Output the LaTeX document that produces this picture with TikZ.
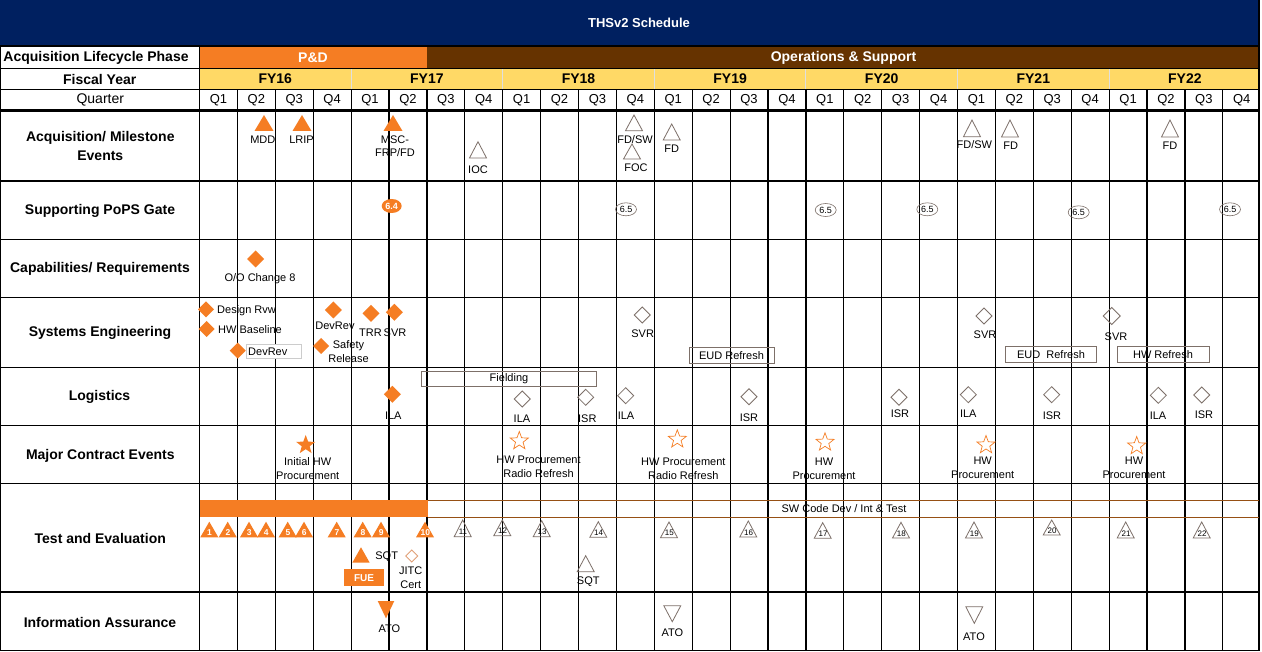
\documentclass[tikz,border=0pt]{standalone}
\usepackage{fontspec}
\setmainfont{Liberation Sans}
\usetikzlibrary{shapes.geometric}
\definecolor{navy}{RGB}{0,32,96}
\definecolor{myor}{RGB}{245,125,35}
\definecolor{mybr}{RGB}{102,51,0}
\definecolor{mygold}{RGB}{255,217,102}
\definecolor{mygr}{RGB}{125,112,105}
\definecolor{mysw}{RGB}{150,80,20}
\definecolor{mylo}{RGB}{225,160,120}
\tikzset{
 hdr/.style={font=\fontsize{14}{19}\selectfont\bfseries, align=center, inner sep=0pt},
 qtr/.style={font=\fontsize{13}{15}\selectfont, inner sep=0pt},
 lab/.style={font=\fontsize{11}{14}\selectfont, align=center, inner sep=0pt},
 gridln/.style={line width=1.2pt, black},
 oline/.style={draw=mygr, line width=0.8pt, fill=none},
 boxl/.style={draw=mygr, line width=0.8pt},
 numw/.style={font=\fontsize{8.5}{9}\selectfont\bfseries, text=white, inner sep=0pt},
 numb/.style={font=\fontsize{8}{9}\selectfont, text=black, inner sep=0pt},
 gate/.style={ellipse, draw=mygr, line width=0.6pt, minimum width=21pt, minimum height=13pt, inner sep=0pt, font=\fontsize{9}{9}\selectfont},
 fstar/.style={star, star points=5, star point ratio=2.4, minimum size=20pt, inner sep=0pt, fill=myor},
 ostar/.style={star, star points=5, star point ratio=2.4, minimum size=19pt, inner sep=0pt, draw=myor, line width=0.7pt},
}
\newcommand{\TriF}[4]{\fill[myor] (#1-#4,#3) -- (#1,#2) -- (#1+#4,#3) -- cycle;}
\newcommand{\TriO}[4]{\draw[oline] (#1-#4,#3) -- (#1,#2) -- (#1+#4,#3) -- cycle;}
\newcommand{\DiaF}[3]{\fill[myor] (#1-#3,#2) -- (#1,#2-#3) -- (#1+#3,#2) -- (#1,#2+#3) -- cycle;}
\newcommand{\DiaO}[3]{\draw[oline] (#1-#3,#2) -- (#1,#2-#3) -- (#1+#3,#2) -- (#1,#2+#3) -- cycle;}
\begin{document}
\begin{tikzpicture}[x=1pt,y=-1pt]
\useasboundingbox (0,0) rectangle (1262,652);
\fill[white] (0,0) rectangle (1262,652);
% header bands
\fill[navy] (0,0) rectangle (1259,46);
\fill[myor] (199.5,46) rectangle (426.7,68.5);
\fill[mybr] (426.7,46) rectangle (1259,68.5);
\fill[mygold] (199.5,68.5) rectangle (1259,89.5);
\foreach \k in {1,...,6} \draw[white!75!gray, line width=1pt] ({199.5+151.6*\k},68.5) -- ({199.5+151.6*\k},89.5);
% grid
\foreach \yy in {46,68.5,89.5,181,239.5,297.5,367.5,425.5,483.5,592,650.2} \draw[gridln] (0,\yy) -- (1259,\yy);
\draw[line width=2.6pt] (0,110.5) -- (1259,110.5);
\foreach \i in {1,...,27} \draw[gridln] ({199.5+37.9*\i},89.5) -- ({199.5+37.9*\i},650.2);
\draw[gridln] (199.5,46) -- (199.5,650.2);
\draw[gridln] (0.6,46) -- (0.6,650.2);
\draw[line width=2.6pt] (1259,0) -- (1259,651);
% title and headers
\node[font=\fontsize{13}{15}\selectfont\bfseries, text=white, inner sep=0pt] (title) at (639,23) {THSv2 Schedule};
\node[hdr] (h0) at (96,57.5) {Acquisition Lifecycle Phase};
\node[hdr] (h1) at (99.7,79) {Fiscal Year};
\node[font=\fontsize{14}{16}\selectfont, inner sep=0pt] (h2) at (100.3,100) {Quarter};
\node[hdr, text=white] (pd) at (313,57.5) {P\&D};
\node[hdr, text=white] (os) at (843.5,57.5) {Operations \& Support};
\foreach \k/\t in {0/FY16,1/FY17,2/FY18,3/FY19,4/FY20,5/FY21,6/FY22}
  \node[hdr] (fy\k) at ({199.5+151.6*\k+75.8},79) {\t};
\foreach \i in {0,...,27} {
  \pgfmathtruncatemacro\q{mod(\i,4)+1}
  \node[qtr] (q\i) at ({199.5+37.9*(\i+0.5)},100) {Q\q};
}
% row labels
\node[hdr] (r1) at (100.3,146) {Acquisition/ Milestone\\Events};
\node[hdr] (r2) at (100,211) {Supporting PoPS Gate};
\node[hdr] (r3) at (100,269) {Capabilities/ Requirements};
\node[hdr] (r4) at (100,333) {Systems Engineering};
\node[hdr] (r5) at (99.5,397) {Logistics};
\node[hdr] (r6) at (100.3,455.5) {Major Contract Events};
\node[hdr] (r7) at (100.3,538) {Test and Evaluation};
\node[hdr] (r8) at (100,622) {Information Assurance};
% ---- Acquisition / milestone
\TriF{264}{115}{131}{9.5}
\TriF{302}{115}{131}{9.5}
\TriF{393}{115}{131}{9.5}
\TriO{478}{141.7}{158}{8.5}
\TriO{634}{115}{130.7}{8.5}
\TriO{632}{144}{159}{8.5}
\TriO{671.7}{124}{140}{8.5}
\TriO{972}{120}{136.7}{8.5}
\TriO{1010}{120}{137}{8.5}
\TriO{1170}{120}{137}{8.5}
\node[lab] (a1) at (262.8,140) {MDD};
\node[lab] (a2) at (301.5,140) {LRIP};
\node[lab, font=\fontsize{11}{13.5}\selectfont] (a3) at (395,146) {MSC-\\FRP/FD};
\node[lab] (a4) at (478,170) {IOC};
\node[lab] (a5) at (635,139.3) {FD/SW};
\node[lab] (a6) at (636,167.7) {FOC};
\node[lab] (a7) at (671.7,149) {FD};
\node[lab] (a8) at (974.3,145) {FD/SW};
\node[lab] (a9) at (1010.7,146) {FD};
\node[lab] (a10) at (1170,146) {FD};
% ---- PoPS gates
\node[ellipse, fill=myor, text=white, minimum width=20pt, minimum height=14pt, inner sep=0pt, font=\fontsize{9}{9}\selectfont\bfseries] (g1) at (391.7,206) {6.4};
\node[gate] (g2) at (626,209.3) {6.5};
\node[gate] (g3) at (825.7,210) {6.5};
\node[gate] (g4) at (927.3,209.3) {6.5};
\node[gate] (g5) at (1078.7,212.3) {6.5};
\node[gate] (g6) at (1230,209.3) {6.5};
% ---- Capabilities
\DiaF{255.7}{259}{8.5}
\node[lab] (c1) at (260,279) {O/O Change 8};
% ---- Systems engineering
\fill[white] (246.7,344) rectangle (301.7,358);
\draw[gray!40, line width=0.6pt] (246.7,344) rectangle (301.7,358);
\DiaF{206}{309.3}{8}
\DiaF{206.7}{329}{8}
\DiaF{237.7}{350.7}{8}
\DiaF{333.3}{310}{8.5}
\DiaF{321}{346}{8}
\DiaF{371}{313.3}{8.5}
\DiaF{394.3}{312.3}{8.5}
\DiaO{642.3}{315}{8}
\DiaO{984}{316}{8}
\DiaO{1111.7}{316}{8.5}
\node[lab, anchor=west] (s1) at (217,311) {Design Rvw};
\node[lab, anchor=west] (s2) at (218,330) {HW Baseline};
\node[lab, anchor=west] (s3) at (248,352) {DevRev};
\node[lab] (s4) at (335,325.5) {DevRev};
\node[lab, font=\fontsize{11}{14}\selectfont] (s5) at (348.5,351.5) {Safety\\Release};
\node[lab] (s6) at (370.5,333) {TRR};
\node[lab] (s7) at (395,333) {SVR};
\node[lab] (s8) at (642.7,334) {SVR};
\node[lab] (s9) at (985,335) {SVR};
\node[lab] (s10) at (1116,337) {SVR};
\draw[boxl] (689,347.7) rectangle (774.3,363.3);
\node[lab] (s11) at (731.5,355.5) {EUD Refresh};
\draw[boxl] (1005.7,346.7) rectangle (1096.7,362.7);
\node[lab] (s12) at (1051,354.7) {EUD\ \ Refresh};
\draw[boxl] (1117.3,346.7) rectangle (1209,362.7);
\node[lab] (s13) at (1163,354.7) {HW Refresh};
% ---- Logistics
\draw[boxl] (421.7,371.7) rectangle (596.7,386.7);
\node[lab] (lf) at (509,379) {Fielding};
\DiaF{392.3}{394.3}{8.5}
\node[lab] (l1) at (393.3,415.7) {ILA};
\foreach \dx/\dy/\tx/\ty/\t [count=\n] in {522.3/399/522/418.7/ILA, 585.7/397.3/587.3/418.7/ISR, 625.7/395.7/626/415.3/ILA, 749/396.7/749/417.3/ISR, 899/397.3/900/413.3/ISR, 968.3/394.7/968.3/413.3/ILA, 1051.7/394.7/1052/415.3/ISR, 1158.3/395.3/1158/415.3/ILA, 1201.7/395/1204/415/ISR} {
  \DiaO{\dx}{\dy}{8}
  \node[lab] (lo\n) at (\tx,\ty) {\t};
}
% ---- Major contract events
\node[fstar] (st1) at (305.7,445) {};
\node[lab] (m1) at (307.7,468.3) {Initial HW\\Procurement};
\node[ostar] (st2) at (519.3,441) {};
\node[lab] (m2) at (538.5,467) {HW Procurement\\Radio Refresh};
\node[ostar] (st3) at (677.3,439.3) {};
\node[lab] (m3) at (683.3,468.3) {HW Procurement\\Radio Refresh};
\node[ostar] (st4) at (825,442.3) {};
\node[lab] (m4) at (824,468.3) {HW\\Procurement};
\node[ostar] (st5) at (986,445) {};
\node[lab] (m5) at (982.7,467.5) {HW\\Procurement};
\node[ostar] (st6) at (1136.7,446) {};
\node[lab] (m6) at (1134,467.5) {HW\\Procurement};
% ---- Test and evaluation
\fill[myor] (199.5,500) rectangle (427.7,517.3);
\draw[mysw, line width=0.9pt] (427.7,500) -- (1259,500);
\draw[mysw, line width=0.9pt] (427.7,517.3) -- (1259,517.3);
\node[lab] (sw) at (844,508.7) {SW Code Dev / Int \& Test};
\foreach \x/\n in {209.3/1,227.7/2,249/3,266/4,287.7/5,304/6,336.7/7,362.7/8,381/9,425/10} {
  \fill[myor] (\x-9,537.3) -- (\x,521.7) -- (\x+9,537.3) -- cycle;
  \node[numw] (tf\n) at (\x+0.3,532.6) {\n};
}
\foreach \x/\a/\b/\n in {462.7/520/536.7/11, 502.3/520/535.7/12, 541.7/520.7/536.7/13, 598.3/521.7/537.3/14, 669/522/537.7/15, 748.3/521/537/16, 822.7/522.7/538.3/17, 901/522.3/538/18, 974/522/538/19, 1051.7/520/535/20, 1125.7/522/538/21, 1201.7/522/538/22} {
  \draw[oline] (\x-8.5,\b) -- (\x,\a) -- (\x+8.5,\b) -- cycle;
  \node[numb] (to\n) at (\x+0.3,\b-4.6) {\n};
}
\TriF{361}{547.3}{562.7}{8.7}
\node[lab] (t1) at (386.7,556.7) {SQT};
\draw[mylo, line width=0.8pt] (411.7-6,556) -- (411.7,550) -- (411.7+6,556) -- (411.7,562) -- cycle;
\node[lab, font=\fontsize{11}{14}\selectfont] (t2) at (410.7,578) {JITC\\Cert};
\fill[myor] (344,569.3) rectangle (384,586);
\node[font=\fontsize{10}{10}\selectfont\bfseries, text=white, inner sep=0pt] (fue) at (364,577.7) {FUE};
\TriO{585.7}{555.7}{571.7}{8.5}
\node[lab] (t3) at (588.3,581.7) {SQT};
% ---- Information assurance
\fill[myor] (386-8.3,601) -- (386+8.3,601) -- (386,618.3) -- cycle;
\node[lab] (i1) at (389.3,628.3) {ATO};
\draw[oline] (672.3-8.5,605.7) -- (672.3+8.5,605.7) -- (672.3,621.7) -- cycle;
\node[lab] (i2) at (672.3,632.7) {ATO};
\draw[oline] (974.3-8.5,606.7) -- (974.3+8.5,606.7) -- (974.3,623.3) -- cycle;
\node[lab] (i3) at (974,636.7) {ATO};
\end{tikzpicture}
\end{document}
